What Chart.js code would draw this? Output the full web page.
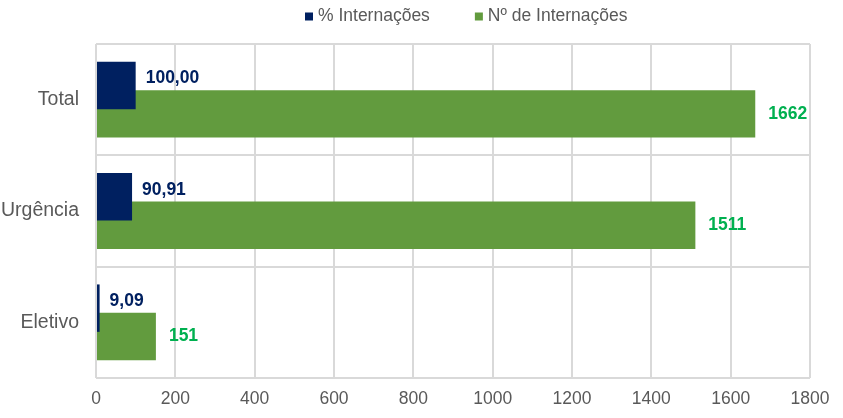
<!DOCTYPE html>
<html>
<head>
<meta charset="utf-8">
<script src="https://cdn.jsdelivr.net/npm/chart.js@4.4.1/dist/chart.umd.min.js"></script>
<style>
  html, body { margin: 0; padding: 0; background: #ffffff; }
  #c { display: block; }
</style>
</head>
<body>
<canvas id="c" width="843" height="418"></canvas>
<script>
const categories = ['Total', 'Urgência', 'Eletivo'];
const pctValues = [100.00, 90.91, 9.09];
const countValues = [1662, 1511, 151];
const seriesNames = ['% Internações', 'Nº de Internações'];
const xMin = 0, xMax = 1800, xStep = 200;

const FONT = "'Liberation Sans', Arial, Helvetica, sans-serif";
const NAVY = '#002060';
const GREEN = '#629b3e';
const LABEL_GREEN = '#00b050';
const GREY_TEXT = '#595959';
const GRID = '#d9d9d9';

const valueLabels = {
  id: 'valueLabels',
  afterDatasetsDraw(chart) {
    const ctx = chart.ctx;
    ctx.save();
    ctx.font = 'bold 17.5px ' + FONT;
    ctx.textAlign = 'left';
    ctx.textBaseline = 'middle';
    chart.data.datasets.forEach((ds, i) => {
      const meta = chart.getDatasetMeta(i);
      meta.data.forEach((bar, j) => {
        const v = ds.data[j];
        const txt = i === 0 ? v.toFixed(2).replace('.', ',') : String(v);
        ctx.fillStyle = i === 0 ? NAVY : LABEL_GREEN;
        ctx.fillText(txt, bar.x + (i === 0 ? 10 : 13), bar.y + (i === 0 ? -7 : 0));
      });
    });
    ctx.restore();
  }
};

const customLegend = {
  id: 'customLegend',
  afterDraw(chart) {
    const ctx = chart.ctx;
    ctx.save();
    ctx.font = '17.5px ' + FONT;
    ctx.textBaseline = 'middle';
    ctx.textAlign = 'left';
    let x = 305;
    const yMid = 16;
    chart.data.datasets.forEach((ds, i) => {
      ctx.fillStyle = ds.backgroundColor;
      ctx.fillRect(x, yMid - 3.5, 8, 8);
      ctx.fillStyle = GREY_TEXT;
      ctx.fillText(ds.label, x + 13, yMid);
      x += 13 + ctx.measureText(ds.label).width + 45;
    });
    ctx.restore();
  }
};

new Chart(document.getElementById('c'), {
  type: 'bar',
  data: {
    labels: categories,
    datasets: [
      {
        label: seriesNames[0],
        data: pctValues,
        backgroundColor: NAVY,
        categoryPercentage: 0.51,
        barPercentage: 1.67
      },
      {
        label: seriesNames[1],
        data: countValues,
        backgroundColor: GREEN,
        categoryPercentage: 0.51,
        barPercentage: 1.67
      }
    ]
  },
  options: {
    indexAxis: 'y',
    responsive: false,
    animation: false,
    devicePixelRatio: 1,
    layout: { padding: { top: 44, right: 33, left: 0, bottom: 0 } },
    plugins: {
      legend: { display: false },
      tooltip: { enabled: false }
    },
    scales: {
      x: {
        min: xMin,
        max: xMax,
        ticks: {
          stepSize: xStep,
          color: GREY_TEXT,
          font: { size: 17.5, family: FONT },
          padding: 11,
          callback: (v) => String(v)
        },
        grid: { color: GRID, lineWidth: 2, drawTicks: false },
        border: { display: false },
        afterFit: (s) => { s.height = 40; }
      },
      y: {
        ticks: {
          color: GREY_TEXT,
          font: { size: 19.5, family: FONT },
          padding: 17
        },
        grid: { offset: true, color: GRID, lineWidth: 2, drawTicks: false },
        border: { display: false },
        afterFit: (s) => { s.width = 96; }
      }
    }
  },
  plugins: [valueLabels, customLegend]
});
</script>
</body>
</html>
